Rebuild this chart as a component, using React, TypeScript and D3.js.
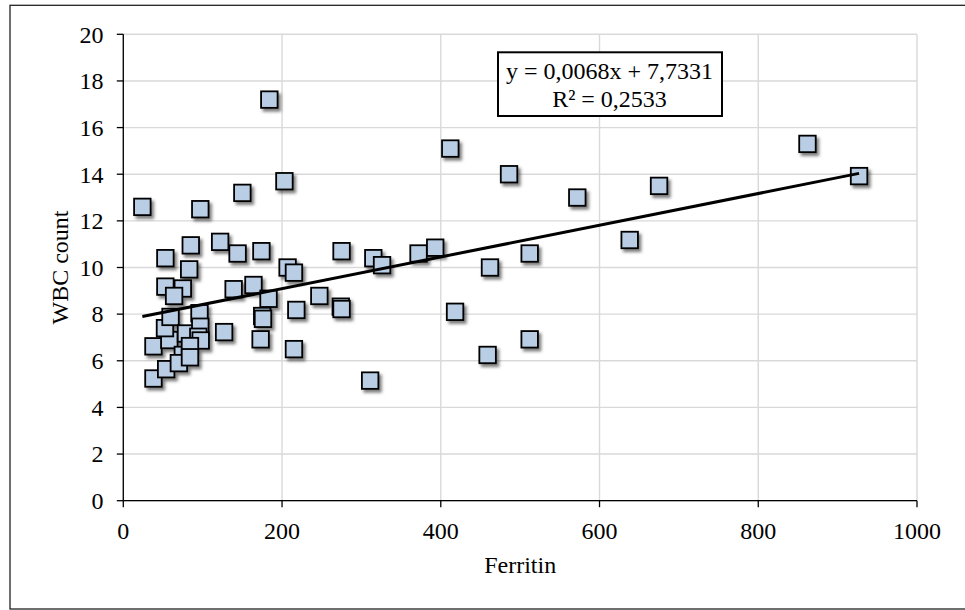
import React from "react";
import * as d3 from "d3";

// Ferritin (x) and WBC count (y) for each patient
const ferritin = [
  24, 184, 412, 203, 150, 97, 122, 85, 53, 144, 174, 275, 83, 207, 215, 315, 326, 372, 393,
  53, 75, 64, 139, 164, 247, 183, 486, 572, 675, 862, 927, 638, 512, 462,
  38, 38, 54, 58, 52.5, 59.5, 96, 79, 75, 70, 127, 173, 175, 176, 215, 218, 274, 275,
  311, 418, 459, 512, 97, 94.5, 97.5, 84, 84,
];
const wbc = [
  12.6, 17.2, 15.1, 13.7, 13.2, 12.5, 11.1, 10.95, 10.4, 10.6, 10.7, 10.7, 9.92, 10.0, 9.78, 10.4, 10.1, 10.6, 10.85,
  9.18, 9.1, 8.78, 9.07, 9.25, 8.78, 8.66, 14.0, 13.0, 13.5, 15.3, 13.92, 11.18, 10.6, 10.0,
  6.62, 5.24, 5.64, 6.89, 7.4, 7.88, 8.04, 7.17, 6.25, 5.9, 7.23, 6.92, 7.92, 7.8, 6.5, 8.18, 8.32, 8.22,
  5.15, 8.1, 6.25, 6.92, 7.46, 7.03, 6.87, 6.63, 6.15,
];

const xTicks = [0, 200, 400, 600, 800, 1000];
const yTicks = [0, 2, 4, 6, 8, 10, 12, 14, 16, 18, 20];

// Linear trend line as reported in the equation label
const slope = 0.0068;
const intercept = 7.7331;
const equationText = "y = 0,0068x + 7,7331";
const r2Text = "R² = 0,2533";

const xTitle = "Ferritin";
const yTitle = "WBC count";

const W = 965;
const H = 610;
const plot = { left: 123.3, right: 917, top: 34.3, bottom: 500.7 };
const FONT = "'Liberation Serif', 'Times New Roman', serif";

export default function App() {
  const x = d3.scaleLinear().domain([0, 1000]).range([plot.left, plot.right]);
  const y = d3.scaleLinear().domain([0, 20]).range([plot.bottom, plot.top]);

  const points = ferritin.map((f, i) => ({ f, w: wbc[i] }));
  const [xMin, xMax] = d3.extent(ferritin) as [number, number];
  const trend = d3.line<number>()
    .x((v) => x(v))
    .y((v) => y(slope * v + intercept))([xMin, xMax]);

  const size = 16.5;

  return (
    <svg
      width={W}
      height={H}
      style={{ position: "absolute", left: 0, top: 0, display: "block", background: "#fff" }}
      fontFamily={FONT}
    >
      <defs>
        <filter id="markerShadow" x="-50%" y="-50%" width="200%" height="200%">
          <feDropShadow dx="2.5" dy="3" stdDeviation="1.8" floodColor="#000" floodOpacity="0.5" />
        </filter>
      </defs>

      {/* chart frame */}
      <rect x={10} y={5.3} width={980} height={603.7} fill="#fff" stroke="#222" strokeWidth={1.3} />

      {/* gridlines */}
      {yTicks.map((t) => (
        <line key={"gy" + t} x1={plot.left} x2={plot.right} y1={y(t)} y2={y(t)} stroke="#d9d9d9" strokeWidth={1.4} />
      ))}
      {xTicks.map((t) => (
        <line key={"gx" + t} x1={x(t)} x2={x(t)} y1={plot.top} y2={plot.bottom} stroke="#d9d9d9" strokeWidth={1.4} />
      ))}

      {/* axes */}
      <line x1={plot.left} x2={plot.left} y1={plot.top} y2={plot.bottom} stroke="#000" strokeWidth={1.3} />
      <line x1={plot.left} x2={plot.right} y1={plot.bottom} y2={plot.bottom} stroke="#000" strokeWidth={1.3} />
      {yTicks.map((t) => (
        <g key={"ty" + t}>
          <line x1={plot.left - 6.5} x2={plot.left} y1={y(t)} y2={y(t)} stroke="#000" strokeWidth={1.3} />
          <text x={103.5} y={y(t) + 8.3} textAnchor="end" fontSize={24} fill="#000">{t}</text>
        </g>
      ))}
      {xTicks.map((t) => (
        <g key={"tx" + t}>
          <line x1={x(t)} x2={x(t)} y1={plot.bottom} y2={plot.bottom + 6.5} stroke="#000" strokeWidth={1.3} />
          <text x={x(t)} y={538.5} textAnchor="middle" fontSize={24} fill="#000">{t}</text>
        </g>
      ))}

      {/* axis titles */}
      <text x={x(500)} y={572.5} textAnchor="middle" fontSize={24} fill="#000">{xTitle}</text>
      <text transform={`translate(68,267.5) rotate(-90)`} textAnchor="middle" fontSize={24} fill="#000">{yTitle}</text>

      {/* data markers */}
      <g filter="url(#markerShadow)">
        {points.map((p, i) => (
          <rect
            key={i}
            x={x(p.f) - size / 2}
            y={y(p.w) - size / 2}
            width={size}
            height={size}
            fill="#b9cde5"
            stroke="#000"
            strokeWidth={1.8}
          />
        ))}
      </g>

      {/* trend line */}
      <path d={trend ?? ""} fill="none" stroke="#000" strokeWidth={3} />

      {/* equation label */}
      <rect x={498} y={52.3} width={224} height={63.7} fill="#fff" stroke="#000" strokeWidth={2} />
      <text x={609.5} y={79} textAnchor="middle" fontSize={24} fill="#000">{equationText}</text>
      <text x={609.5} y={106.5} textAnchor="middle" fontSize={24} fill="#000">{r2Text}</text>
    </svg>
  );
}
